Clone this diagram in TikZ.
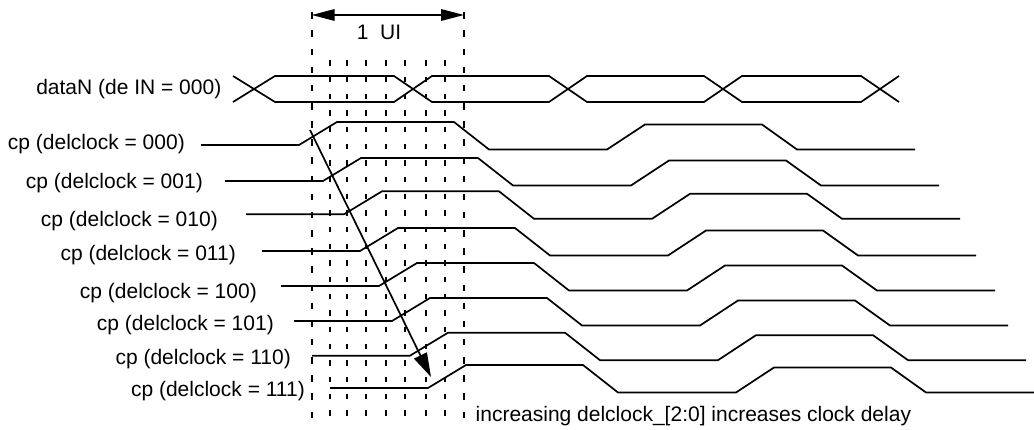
\documentclass[tikz,border=0pt]{standalone}
\usepackage{fontspec}
\setmainfont{Liberation Sans}
\usetikzlibrary{arrows.meta}
\begin{document}
\begin{tikzpicture}[x=1pt,y=-1pt,
  wave/.style={line width=1.7pt},
  outerdash/.style={line width=2pt, dash pattern=on 6.5pt off 11.65pt},
  innerdash/.style={line width=2pt, dash pattern=on 5.5pt off 11.17pt},
  lbl/.style={inner sep=0pt, font=\fontsize{21pt}{25pt}\selectfont},
  uiarrow/.style={line width=1.7pt, {Triangle[length=23pt,width=11.5pt]}-{Triangle[length=23pt,width=11.5pt]}},
  delayarrow/.style={line width=1.7pt, -{Triangle[length=24pt,width=14pt]}}]
\useasboundingbox (0,0) rectangle (1034,430);
% dashed UI grid
\foreach \xx in {311.7,464}{\draw[outerdash] (\xx,12.3) -- (\xx,418);}
\foreach \xx in {330,347.3,366,386,405.3,426,445}{\draw[innerdash] (\xx,60.2) -- (\xx,416);}
% 1 UI arrow
\coordinate (uil) at (311.7,15);
\coordinate (uir) at (464,15);
\draw[uiarrow] (uil) -- (uir);
\node[lbl, anchor=base] (ui) at (379,40) {1\ \ UI};
% data eye
\node[lbl, anchor=base east] (data) at (221.5,94.3) {dataN (de IN = 000)};
\draw[wave] (233,102) -- (275,76) -- (394,76) -- (432,102) -- (549,102) -- (587,76) -- (704,76) -- (742,102) -- (861,102) -- (899,76);
\draw[wave] (233,76) -- (275,102) -- (394,102) -- (432,76) -- (549,76) -- (587,102) -- (704,102) -- (742,76) -- (861,76) -- (899,102);
% clocks
\foreach \r/\L/\xe/\b/\lab [count=\i] in {299/145/184/149.3/000, 323/181/202/188.3/001, 344/214.3/217/226.7/010, 360/251/235/260.7/011, 379/286/256/298.3/100, 392/321/273/331/101, 410/355.7/290/365/110, 428/388/304/396.7/111}{
  \pgfmathsetmacro{\xend}{min(\r+616,1034)}
  \node[lbl, anchor=base east] (cp\i) at (\xe+1,\b) {cp (delclock = \lab)};
  \draw[wave] (\r-98,\L) -- (\r,\L) -- (\r+38,\L-23) -- (\r+155,\L-23) -- (\r+190,\L+4.5) -- (\r+308,\L+4.5) -- (\r+346,\L-20.5) -- (\r+463,\L-20.5) -- (\r+498,\L+4.5) -- (\xend,\L+4.5);
}
% delay arrow
\coordinate (ds) at (310,130);
\coordinate (de) at (431,377);
\draw[delayarrow] (ds) -- (de);
\node[lbl, anchor=base west] (note) at (475.5,421) {increasing delclock\_[2:0] increases clock delay};
\end{tikzpicture}
\end{document}
